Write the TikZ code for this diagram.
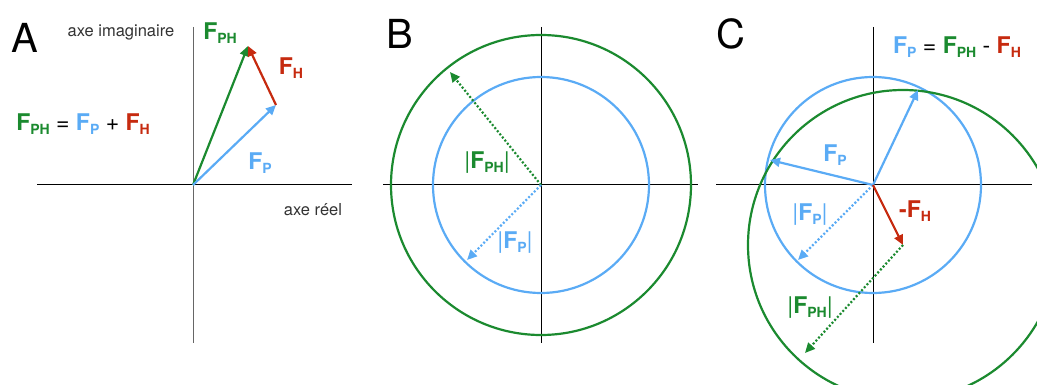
\documentclass[tikz,border=0pt]{standalone}
\usepackage{fontspec}
\setmainfont{TeX Gyre Heros}
\usetikzlibrary{arrows.meta}
\definecolor{phgreen}{HTML}{1B8A2F}
\definecolor{pblue}{HTML}{5AABF5}
\definecolor{hred}{HTML}{C62A0F}
\definecolor{axgray}{HTML}{333333}

\newcommand{\Fv}[1]{\textbf{F}\raisebox{-0.3ex}{\fontsize{14}{14}\selectfont\bfseries #1}}

\tikzset{
  vecarrow/.style={line width=2.2pt, -{Triangle[length=10pt,width=9pt]}},
  radarrow/.style={line width=2.2pt, dash pattern=on 2pt off 2pt,
    -{Triangle[length=10pt,width=9pt]}},
  axisline/.style={line width=1pt},
  ring/.style={line width=2.2pt},
  lbl/.style={font=\fontsize{23}{23}\selectfont, inner sep=0pt},
  panellbl/.style={font=\fontsize{40}{40}\selectfont, inner sep=0pt},
  axlbl/.style={font=\fontsize{16.5}{17}\selectfont, text=axgray, inner sep=0pt}
}

\begin{document}
\begin{tikzpicture}[x=1pt, y=-1pt]
  \useasboundingbox (0,0) rectangle (1037,385);

  % ============ A : sum of vectors ============
  \coordinate (oA) at (193,185);
  \coordinate (pA) at (276,105);
  \coordinate (phA) at (248,46);

  % Axes
  \draw[axisline] (37,185) -- (352,185);
  \draw[axisline, draw=gray!80!black] (193,27) -- (193,343);

  % Vectors
  \draw[vecarrow, phgreen] (oA) -- (phA);
  \draw[vecarrow, pblue] (oA) -- (pA);
  \draw[vecarrow, hred] (pA) -- (phA);

  \node[panellbl] (labA) at (25,38) {A};
  \node[axlbl] (imA) at (121,32) {axe imaginaire};
  \node[axlbl] (reA) at (313,210) {axe réel};
  \node[lbl, text=phgreen] (tphA) at (220,33) {\Fv{PH}};
  \node[lbl, text=hred] (thA) at (291,68) {\Fv{H}};
  \node[lbl, text=pblue] (tpA) at (260,163) {\Fv{P}};
  \node[lbl] (eqA) at (83,124)
    {\textcolor{phgreen}{\Fv{PH}} = \textcolor{pblue}{\Fv{P}} + \textcolor{hred}{\Fv{H}}};

  % ============ B : moduli ============
  \coordinate (oB) at (541,185);
  \coordinate (phB) at (450,72);
  \coordinate (pB) at (467,260);

  \draw[axisline] (383,185) -- (698,185);
  \draw[axisline] (541,27) -- (541,343);

  \draw[ring, phgreen] (oB) circle (150pt);
  \draw[ring, pblue] (oB) circle (108pt);

  \draw[radarrow, phgreen] (oB) -- (phB);
  \draw[radarrow, pblue] (oB) -- (pB);

  \node[panellbl] (labB) at (400,34) {B};
  \node[lbl, text=phgreen] (tphB) at (487,163) {|\Fv{PH}|};
  \node[lbl, text=pblue] (tpB) at (515,243) {|\Fv{P}|};

  % ============ C : solutions ============
  \coordinate (oC) at (873,185);
  \coordinate (hC) at (903,245);
  \coordinate (p1C) at (918,90);
  \coordinate (p2C) at (770,160);
  \coordinate (pC) at (798,260);
  \coordinate (phC) at (805,353);

  \draw[axisline] (716,185) -- (1032,185);
  \draw[axisline] (873,27) -- (873,343);

  \draw[ring, pblue] (oC) circle (108pt);
  \begin{scope}
    \clip (0,0) rectangle (1037,385);
    \draw[ring, phgreen] (hC) circle (155pt);
  \end{scope}

  \draw[vecarrow, pblue] (oC) -- (p1C);
  \draw[vecarrow, pblue] (oC) -- (p2C);
  \draw[radarrow, pblue] (oC) -- (pC);
  \draw[vecarrow, hred] (oC) -- (hC);
  \draw[radarrow, phgreen] (hC) -- (phC);

  \node[panellbl] (labC) at (731,34) {C};
  \node[lbl] (eqC) at (957,47)
    {\textcolor{pblue}{\Fv{P}} = \textcolor{phgreen}{\Fv{PH}} - \textcolor{hred}{\Fv{H}}};
  \node[lbl, text=pblue] (tpC) at (835,155) {\Fv{P}};
  \node[lbl, text=hred] (thC) at (915,211) {\textbf{-}\Fv{H}};
  \node[lbl, text=pblue] (tpmC) at (810,215) {|\Fv{P}|};
  \node[lbl, text=phgreen] (tphC) at (810,308) {|\Fv{PH}|};

\end{tikzpicture}
\end{document}
